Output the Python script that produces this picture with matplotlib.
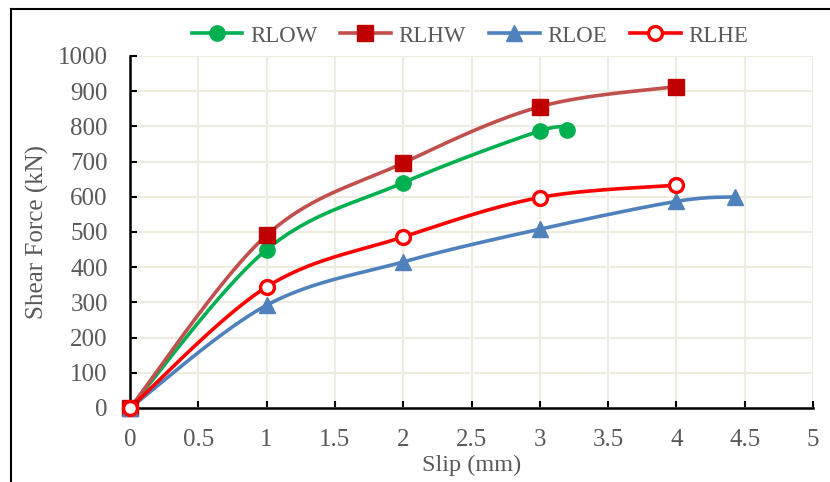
import numpy as np
import matplotlib
matplotlib.use("Agg")
import matplotlib.pyplot as plt
from matplotlib.lines import Line2D

# ---- data ----
rlow_x = [0, 1, 2, 3, 3.2]
rlow_y = [0, 450, 640, 787, 790]
rlhw_x = [0, 1, 2, 3, 4]
rlhw_y = [0, 491, 696, 856, 913]
rloe_x = [0, 1, 2, 3, 4, 4.43]
rloe_y = [0, 292, 415, 508, 587, 600]
rlhe_x = [0, 1, 2, 3, 4]
rlhe_y = [0, 344, 486, 598, 633]

x_ticks = [0, 0.5, 1, 1.5, 2, 2.5, 3, 3.5, 4, 4.5, 5]
x_tick_labels = ["0", "0.5", "1", "1.5", "2", "2.5", "3", "3.5", "4", "4.5", "5"]
y_ticks = list(range(0, 1001, 100))

FONT = "Liberation Serif"
TXT = "#595959"
FS = 18


def smooth(xs, ys, n=40):
    """Excel-like smoothing: Catmull-Rom style cubic Bezier through points."""
    P = np.column_stack([xs, ys]).astype(float)
    m = len(P)
    out = []
    for i in range(m - 1):
        p0 = P[i - 1] if i > 0 else P[i]
        p1 = P[i]
        p2 = P[i + 1]
        p3 = P[i + 2] if i + 2 < m else P[i + 1]
        c1 = p1 + (p2 - p0) / 6.0
        c2 = p2 - (p3 - p1) / 6.0
        t = np.linspace(0, 1, n)[:, None]
        seg = ((1 - t) ** 3) * p1 + 3 * ((1 - t) ** 2) * t * c1 + 3 * (1 - t) * t ** 2 * c2 + t ** 3 * p2
        out.append(seg if i == 0 else seg[1:])
    s = np.vstack(out)
    return s[:, 0], s[:, 1]


fig = plt.figure(figsize=(8.3, 4.82), dpi=100)
ax = fig.add_axes([130 / 830, 1 - 408 / 482, (813 - 130) / 830, (408 - 56) / 482])

series = [
    (rlow_x, rlow_y, "RLOW", "#00B050", "o", "#00B050", "#00B050", 11),
    (rlhw_x, rlhw_y, "RLHW", "#C0504D", "s", "#C00000", "#C00000", 12),
    (rloe_x, rloe_y, "RLOE", "#4F81BD", "^", "#4F81BD", "#4F81BD", 11),
    (rlhe_x, rlhe_y, "RLHE", "#FF0000", "o", "white", "#FF0000", 10),
]

handles = []
for xs, ys, name, lc, mk, mfc, mec, ms in series:
    sx, sy = smooth(xs, ys)
    ax.plot(sx, sy, color=lc, lw=2.6, solid_capstyle="round", zorder=3, clip_on=False)
    ax.plot(xs, ys, ls="none", marker=mk, markersize=ms, markerfacecolor=mfc,
            markeredgecolor=mec, markeredgewidth=2.4 if mfc == "white" else 1,
            zorder=4, clip_on=False)
    handles.append(Line2D([], [], color=lc, lw=2.6, marker=mk, markersize=ms,
                          markerfacecolor=mfc, markeredgecolor=mec,
                          markeredgewidth=2.4 if mfc == "white" else 1, label=name))

ax.set_xlim(0, 5)
ax.set_ylim(0, 1000)
ax.set_xticks(x_ticks)
ax.set_xticklabels(x_tick_labels)
ax.set_yticks(y_ticks)
ax.grid(True, color="#EEECE1", lw=1.5, zorder=0)
ax.set_axisbelow(True)
for s in ["top", "right"]:
    ax.spines[s].set_visible(False)
for s in ["left", "bottom"]:
    ax.spines[s].set_color("black")
    ax.spines[s].set_linewidth(1.8)
ax.tick_params(direction="in", length=5, width=1.5, color="black",
               labelsize=FS, labelcolor=TXT)
ax.tick_params(axis="y", pad=16)
ax.tick_params(axis="x", pad=15)
for lab in ax.get_xticklabels() + ax.get_yticklabels():
    lab.set_fontfamily(FONT)

ax.set_xlabel("Slip (mm)", fontsize=17.5, color=TXT, fontfamily=FONT, labelpad=3)
ax.set_ylabel("Shear Force (kN)", fontsize=18, color=TXT, fontfamily=FONT, labelpad=6)

leg = fig.legend(handles=handles, loc="center", bbox_to_anchor=(470 / 830, 1 - 36 / 482),
                 ncol=4, frameon=False, prop={"family": FONT, "size": 16.5},
                 handlelength=2.2, handletextpad=0.35, columnspacing=1.0, borderaxespad=0)
for t in leg.get_texts():
    t.set_color(TXT)

# outer chart frame (left and top edges visible)
fig.add_artist(Line2D([10.5 / 830, 10.5 / 830], [0, 1 - 9 / 482], color="black", lw=1.5,
                      transform=fig.transFigure))
fig.add_artist(Line2D([10.5 / 830, 1], [1 - 9 / 482, 1 - 9 / 482], color="black", lw=1.5,
                      transform=fig.transFigure))

fig.savefig("out.png", dpi=100)
